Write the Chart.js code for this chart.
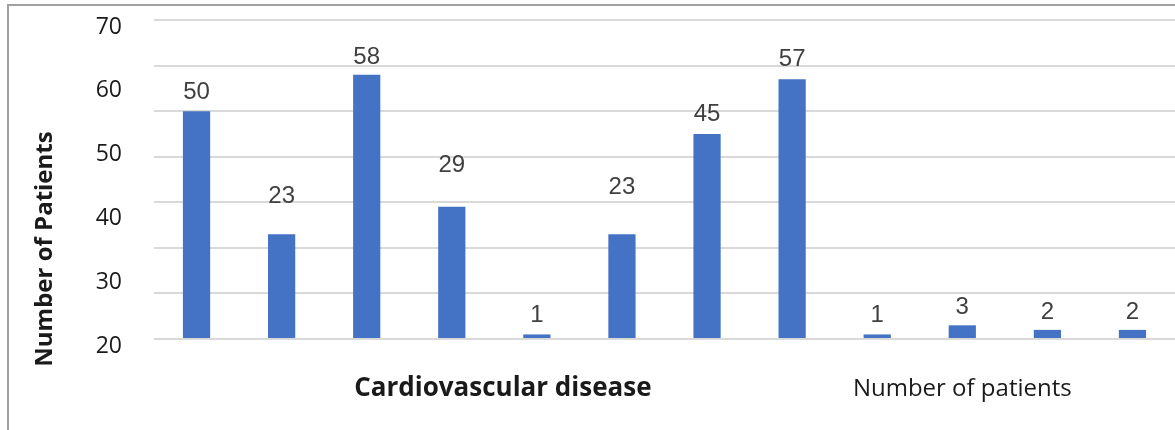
<!DOCTYPE html>
<html lang="en">
<head>
    <meta charset="UTF-8">
    <title>Number of Patients</title>
    <script src="https://cdn.jsdelivr.net/npm/chart.js"></script>
    <style>
        body { margin: 0; background: #fff; }
        #wrap { width: 1175px; height: 430px; position: relative; }
    </style>
</head>
<body>
    <div id="wrap"><canvas id="patients-chart"></canvas></div>

    <script>
        // data
        const categories = ['1', '2', '3', '4', '5', '6', '7', '8', '9', '10', '11', '12'];
        const patientCounts = [50, 23, 58, 29, 1, 23, 45, 57, 1, 3, 2, 2];
        const axisTickLabels = [20, 30, 40, 50, 60, 70];
        const groupNames = ['Cardiovascular disease', 'Number of patients'];

        // style only: where the value labels / group names sit
        const labelLift = [19, 38, 17, 41, 19, 47, 20, 20, 19, 18, 18, 18];
        const groupAt = [3.6, 9.0];
        const groupFont = ['bold 26px "Open Sans", sans-serif', '24px "Open Sans", sans-serif'];

        const barBlue = '#4472C4';
        const gridGray = '#d9d9d9';

        const decorPlugin = {
            id: 'decor',
            beforeDraw(chart) {
                const ctx = chart.ctx;
                // outer frame (top + left edge)
                ctx.save();
                ctx.strokeStyle = '#a0a0a0';
                ctx.lineWidth = 2;
                ctx.beginPath();
                ctx.moveTo(8, 430);
                ctx.lineTo(8, 5);
                ctx.lineTo(1175, 5);
                ctx.stroke();
                ctx.restore();
            },
            beforeDatasetsDraw(chart) {
                const ctx = chart.ctx;
                const meta = chart.getDatasetMeta(0);
                ctx.save();
                ctx.fillStyle = '#404040';
                ctx.font = '24px "Liberation Sans", Arial, sans-serif';
                ctx.textAlign = 'center';
                ctx.textBaseline = 'middle';
                meta.data.forEach((bar, i) => {
                    ctx.fillText(String(patientCounts[i]), bar.x, bar.y - labelLift[i]);
                });
                ctx.restore();
            },
            afterDraw(chart) {
                const ctx = chart.ctx;
                const xs = chart.scales.x;
                ctx.save();
                ctx.fillStyle = '#1a1a1a';
                ctx.textBaseline = 'middle';
                ctx.textAlign = 'center';
                groupNames.forEach((name, i) => {
                    ctx.font = groupFont[i];
                    ctx.fillText(name, xs.getPixelForValue(groupAt[i]), 389);
                });
                // y axis title
                ctx.translate(45, 249);
                ctx.rotate(-Math.PI / 2);
                ctx.font = 'bold 24px "Open Sans", sans-serif';
                ctx.fillText('Number of Patients', 0, 0);
                ctx.restore();
            }
        };

        new Chart(document.getElementById('patients-chart'), {
            type: 'bar',
            data: {
                labels: categories,
                datasets: [{
                    data: patientCounts,
                    backgroundColor: barBlue,
                    barPercentage: 0.32,
                    categoryPercentage: 1.0
                }]
            },
            options: {
                responsive: true,
                maintainAspectRatio: false,
                animation: false,
                layout: { padding: { top: 20, right: 0, bottom: 0, left: 0 } },
                plugins: {
                    legend: { display: false },
                    tooltip: { enabled: false }
                },
                scales: {
                    x: {
                        ticks: { display: false },
                        grid: { display: false },
                        border: { display: false },
                        afterFit: s => { s.height = 91; }
                    },
                    y: {
                        position: 'left',
                        min: 0,
                        max: 70,
                        ticks: { display: false, stepSize: 10 },
                        grid: { color: gridGray, lineWidth: 2, drawTicks: false },
                        border: { display: false },
                        afterFit: s => { s.width = 1; s.paddingTop = 0; s.paddingBottom = 0; }
                    },
                    y2: {
                        position: 'left',
                        min: axisTickLabels[0],
                        max: axisTickLabels[axisTickLabels.length - 1],
                        afterBuildTicks: s => { s.ticks = axisTickLabels.map(v => ({ value: v })); },
                        ticks: {
                            color: '#1a1a1a',
                            padding: 31,
                            labelOffset: 7,
                            font: { family: '"Open Sans", sans-serif', size: 23 }
                        },
                        grid: { display: false, drawTicks: false },
                        border: { display: false },
                        afterFit: s => { s.width = 153; s.paddingTop = 0; s.paddingBottom = 0; }
                    }
                }
            },
            plugins: [decorPlugin]
        });
    </script>
</body>
</html>
